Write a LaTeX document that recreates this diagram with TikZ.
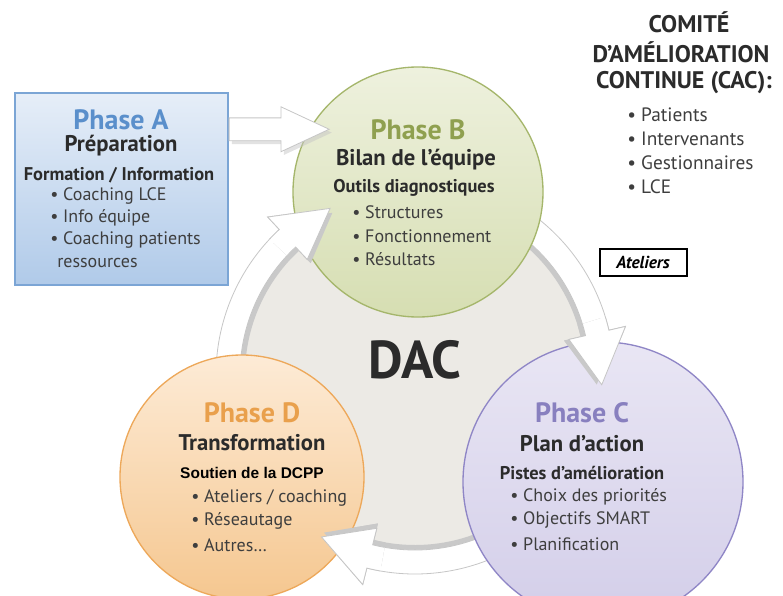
\documentclass[tikz,border=0pt]{standalone}
\usepackage{fontspec}
\setmainfont{PT Sans}
\newfontfamily\arialfont{Liberation Sans}
\usetikzlibrary{positioning,shapes.arrows,shadows}

\definecolor{darktext}{HTML}{2B2B2B}
\definecolor{itemtext}{HTML}{3E3E3E}
\definecolor{diskgrey}{HTML}{ECEAE5}
\definecolor{colA}{HTML}{5A8FCB}
\definecolor{colB}{HTML}{8FA04F}
\definecolor{colC}{HTML}{8880BF}
\definecolor{colD}{HTML}{E9A04C}
\definecolor{topA}{HTML}{E6EEF8}  \definecolor{botA}{HTML}{B0CAE9}
\definecolor{lineB}{HTML}{A5B66B} \definecolor{topB}{HTML}{EEF1DE} \definecolor{botB}{HTML}{D6DEB2}
\definecolor{lineC}{HTML}{8F86C6} \definecolor{topC}{HTML}{E9E6F4} \definecolor{botC}{HTML}{D3CEE9}
\definecolor{lineD}{HTML}{EDA85A} \definecolor{topD}{HTML}{FDEBD6} \definecolor{botD}{HTML}{F5C790}

\tikzset{
 phase/.style={inner sep=0, font=\bfseries\fontsize{21}{24}\selectfont},
 stage/.style={inner sep=0, text=darktext, font=\bfseries\fontsize{17}{20}\selectfont},
 tools/.style={inner sep=0, text=darktext, font=\bfseries\fontsize{13.8}{16}\selectfont},
 item/.style={inner sep=0, anchor=west, text=itemtext, font=\fontsize{13.5}{16}\selectfont},
 cac/.style={inner sep=0, text=darktext, font=\bfseries\fontsize{18}{21}\selectfont},
 cacitem/.style={item, font=\fontsize{14.5}{17}\selectfont},
 ringarrow/.style={fill=white, draw=gray!45, line width=0.6pt},
 ringshadow/.style={fill=gray!42},
 ringedge/.style={draw=gray!45, line width=0.6pt},
}

% curved arrow on the ring: from angle #1 to tip angle #2, radii moved by #3
\newcommand{\arrowpath}[3]{({#1}:{199+#3}) arc[start angle={#1}, end angle={#2-16}, radius={199+#3}] -- ({#2-16}:{216+#3}) -- ({#2}:{187+#3}) -- ({#2-16}:{158+#3}) -- ({#2-16}:{175+#3}) arc[start angle={#2-16}, end angle={#1}, radius={175+#3}] -- cycle}
\newcommand{\headpath}[2]{({#1-20}:{199+#2}) arc[start angle={#1-20}, end angle={#1-16}, radius={199+#2}] -- ({#1-16}:{216+#2}) -- ({#1}:{187+#2}) -- ({#1-16}:{158+#2}) -- ({#1-16}:{175+#2}) arc[start angle={#1-16}, end angle={#1-20}, radius={175+#2}] -- cycle}
\newcommand{\headedge}[1]{({#1-20}:199) arc[start angle={#1-20}, end angle={#1-16}, radius=199] -- ({#1-16}:216) -- ({#1}:187) -- ({#1-16}:158) -- ({#1-16}:175) arc[start angle={#1-16}, end angle={#1-20}, radius=175]}

\begin{document}
\begin{tikzpicture}[x=0.75pt,y=-0.75pt]
\useasboundingbox (0,0) rectangle (783,596);

\node[circle, fill=diskgrey, inner sep=0, minimum size=267pt] (disk) at (415,375) {}; % DAC disk

\begin{scope}[shift={(415,375)}]
\fill[ringshadow] \arrowpath{160}{243}{-5}; \filldraw[ringarrow] \arrowpath{160}{243}{0}; % D to B
\fill[ringshadow] \arrowpath{290}{363}{-5}; \filldraw[ringarrow] \arrowpath{290}{363}{0}; % B to C
\fill[ringshadow] \arrowpath{40}{120}{-5}; \filldraw[ringarrow] \arrowpath{40}{120}{0}; % C to D
\end{scope}

\node[draw=colA!80, line width=1.1pt, top color=topA, bottom color=botA, minimum width=159.75pt, minimum height=144pt] (phaseA) at (121.5,189) {}; % box A
\node[circle, draw=lineB, line width=1pt, top color=topB, bottom color=botB, minimum size=187.5pt] (phaseB) at (418,192) {};
\node[circle, draw=lineC, line width=1pt, top color=topC, bottom color=botC, minimum size=210pt] (phaseC) at (603,482) {};
\node[circle, draw=lineD, line width=1pt, top color=topD, bottom color=botD, minimum size=183pt] (phaseD) at (242,477) {};

\begin{scope}[shift={(415,375)}]
\fill[ringshadow] \headpath{243}{-5}; \fill[white] \headpath{243}{0}; \draw[ringedge] \headedge{243};
\fill[ringshadow] \headpath{363}{-5}; \fill[white] \headpath{363}{0}; \draw[ringedge] \headedge{363};
\fill[ringshadow] \headpath{120}{-5}; \fill[white] \headpath{120}{0}; \draw[ringedge] \headedge{120};
\end{scope}

\node[single arrow, draw=gray!45, line width=0.6pt, fill=white, anchor=tail, inner sep=8.25pt, minimum height=75pt, single arrow head extend=8.25pt, single arrow tip angle=50, drop shadow={shadow xshift=2pt, shadow yshift=-2.5pt, fill=gray!45}] (atob) at ([yshift=-27.75pt]phaseA.north east) {}; % A to B

\node[phase, text=colA] (aTitle) at (121,120) {Phase A};
\node[stage] (aName) at (121,146) {Préparation};
\node[tools] (aHead) at (119,175) {Formation / Information};
\node[item] (a1) at (50,196) {• Coaching LCE}; \node[item] (a2) at (50,218) {• Info équipe};
\node[item] (a3) at (50,240) {• Coaching patients}; \node[item] (a4) at (57,263) {ressources};

\node[phase, text=colB] (bTitle) at (418,130) {Phase B};
\node[stage] (bName) at (416,160) {Bilan de l’équipe};
\node[tools] (bHead) at (414,188) {Outils diagnostiques};
\node[item] (b1) at (352,212) {• Structures}; \node[item] (b2) at (352,236) {• Fonctionnement};
\node[item] (b3) at (352,259) {• Résultats};

\node[phase, text=colC] (cTitle) at (582,413) {Phase C};
\node[stage] (cName) at (582,444) {Plan d’action};
\node[tools] (cHead) at (582,473) {Pistes d’amélioration};
\node[item] (c1) at (510,497) {• Choix des priorités}; \node[item] (c2) at (510,520) {• Objectifs SMART};
\node[item] (c3) at (510,544) {• Planification};

\node[phase, text=colD] (dTitle) at (252,413) {Phase D};
\node[stage] (dName) at (252,443) {Transformation};
\node[inner sep=0, font=\arialfont\bfseries\fontsize{11.6}{14}\selectfont] (dHead) at (252,473) {Soutien de la DCPP};
\node[item] (d1) at (191,498) {• Ateliers / coaching}; \node[item] (d2) at (191,521) {• Réseautage};
\node[item] (d3) at (191,545) {• Autres…};

\node[inner sep=0, text=darktext, font=\bfseries\fontsize{40}{44}\selectfont] (dac) at (415,360) {DAC};

\node[cac] (cac1) at (689,22) {COMITÉ};
\node[cac] (cac2) at (681,52) {D’AMÉLIORATION};
\node[cac] (cac3) at (684,83) {CONTINUE (CAC):};
\node[cacitem] (e1) at (627,115) {• Patients};
\node[cacitem] (e2) at (627,139) {• Intervenants};
\node[cacitem] (e3) at (627,163) {• Gestionnaires};
\node[cacitem] (e4) at (627,187) {• LCE};

\node[draw=black, line width=1.5pt, minimum width=65.25pt, minimum height=20.25pt, font=\bfseries\itshape\fontsize{13}{16}\selectfont] (ateliers) at (643,262) {Ateliers};

\end{tikzpicture}
\end{document}
